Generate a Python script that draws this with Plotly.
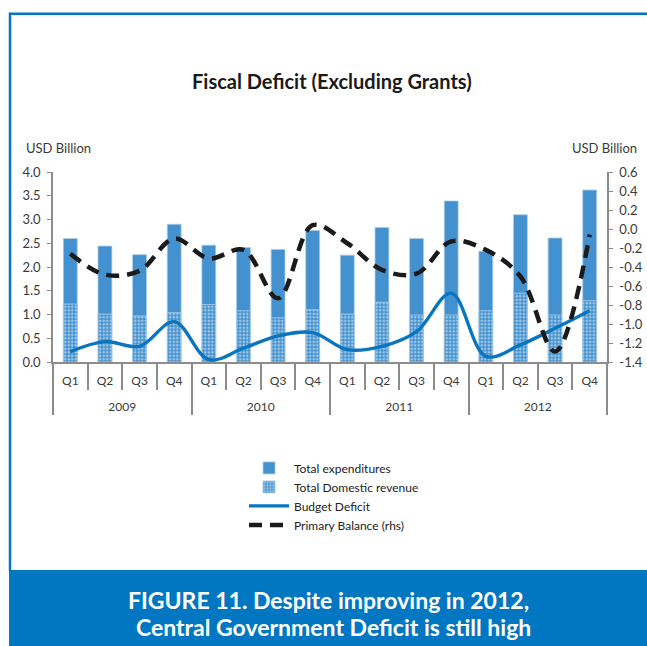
import plotly.graph_objects as go

years = ["2009"] * 4 + ["2010"] * 4 + ["2011"] * 4 + ["2012"] * 4
quarters = ["Q1", "Q2", "Q3", "Q4"] * 4

total_expenditures = [2.60, 2.44, 2.26, 2.90, 2.46, 2.41, 2.37, 2.77,
                      2.25, 2.83, 2.60, 3.39, 2.33, 3.10, 2.61, 3.62]
domestic_revenue = [1.22, 1.01, 0.97, 1.04, 1.21, 1.08, 0.93, 1.10,
                    1.01, 1.26, 0.99, 0.99, 1.08, 1.45, 0.99, 1.29]
budget_deficit = [0.22, 0.43, 0.33, 0.85, 0.05, 0.29, 0.55, 0.62,
                  0.26, 0.33, 0.64, 1.45, 0.12, 0.36, 0.71, 1.08]
primary_balance = [-0.26, -0.48, -0.44, -0.10, -0.31, -0.22, -0.73, 0.04,
                   -0.15, -0.43, -0.47, -0.13, -0.22, -0.50, -1.29, -0.06]

left_ticks = [0.0, 0.5, 1.0, 1.5, 2.0, 2.5, 3.0, 3.5, 4.0]
right_ticks = [0.6, 0.4, 0.2, 0.0, -0.2, -0.4, -0.6, -0.8, -1.0, -1.2, -1.4]

W, H = 647, 646
L, R, T, B = 53, 607, 171.7, 362.3
# outer (year) level gets a leading line break so it sits below the quarter ticks
x = [["<br>" + y for y in years], quarters]

FONT = "Lato"
GREY = "#3a3a3a"
BAR = "#4391CE"
LINE = "#0A74BE"
FRAME = "#0077C0"

fig = go.Figure()
fig.add_trace(go.Bar(x=x, y=total_expenditures, name="Total expenditures",
                     marker=dict(color=BAR, line=dict(color="#A8CBE8", width=0.8)),
                     width=0.4))
fig.add_trace(go.Bar(x=x, y=domestic_revenue, name="Total Domestic revenue",
                     marker=dict(color=BAR, line=dict(color="#A8CBE8", width=0.8),
                                 pattern=dict(shape=".", fgcolor="white", size=3.5, solidity=0.45)),
                     width=0.4))
fig.add_trace(go.Scatter(x=x, y=budget_deficit, name="Budget Deficit", mode="lines",
                         line=dict(color=LINE, width=3.4, shape="spline", smoothing=1.0)))
fig.add_trace(go.Scatter(x=x, y=primary_balance, name="Primary Balance (rhs)", mode="lines",
                         yaxis="y2",
                         line=dict(color="#1a1a1a", width=4.5, dash="13px,8px", shape="spline", smoothing=1.0)))


def px(sx):
    return (sx - L) / (R - L)


def py(sy):
    return (B - sy) / (B - T)


shapes = [
    dict(type="line", xref="paper", yref="paper", x0=px(10), x1=px(10),
         y0=py(12), y1=py(572), line=dict(color=FRAME, width=2.5)),
    dict(type="line", xref="paper", yref="paper", x0=px(9), x1=px(670),
         y0=py(13), y1=py(13), line=dict(color=FRAME, width=2.5)),
    dict(type="rect", xref="paper", yref="paper", x0=px(9), x1=px(670),
         y0=py(571), y1=py(670), fillcolor=FRAME, line=dict(width=0), layer="below"),
]

annotations = [
    dict(text="<b>Fiscal Deficit (Excluding Grants)</b>", xref="paper", yref="paper",
         x=px(332), y=py(80), xanchor="center", yanchor="middle", showarrow=False,
         font=dict(family=FONT, size=20, color="#1a1a1a")),
    dict(text="USD Billion", xref="paper", yref="paper", x=px(24), y=py(148),
         xanchor="left", yanchor="middle", showarrow=False,
         font=dict(family=FONT, size=13, color=GREY)),
    dict(text="USD Billion", xref="paper", yref="paper", x=px(639), y=py(148),
         xanchor="right", yanchor="middle", showarrow=False,
         font=dict(family=FONT, size=13, color=GREY)),
    dict(text="<b>FIGURE 11. Despite improving in 2012,</b>", xref="paper", yref="paper",
         x=px(328), y=py(601), xanchor="center", yanchor="middle", showarrow=False,
         font=dict(family=FONT, size=23, color="white")),
    dict(text="<b>Central Government Deficit is still high</b>", xref="paper", yref="paper",
         x=px(333), y=py(628), xanchor="center", yanchor="middle", showarrow=False,
         font=dict(family=FONT, size=23, color="white")),
]

fig.update_layout(
    width=W, height=H,
    margin=dict(l=L, r=W - R, t=T, b=H - B, autoexpand=False),
    paper_bgcolor="white", plot_bgcolor="white",
    barmode="overlay",
    showlegend=True,
    font=dict(family=FONT, size=12, color=GREY),
    xaxis=dict(type="multicategory", showline=True, linecolor="#8c8c8c", linewidth=1.5,
               ticks="outside", ticklen=26, tickcolor="#8c8c8c", tickwidth=1.5,
               ticklabelstandoff=7,
               showdividers=True, dividercolor="#8c8c8c", dividerwidth=1.5,
               tickfont=dict(family=FONT, size=12, color=GREY), showgrid=False),
    yaxis=dict(range=[0, 4], tickvals=left_ticks, ticktext=[f"{v:.1f}" for v in left_ticks],
               showline=True, linecolor="#8c8c8c", linewidth=1.5, ticks="outside", ticklen=4,
               tickcolor="#8c8c8c", showgrid=False, zeroline=False, ticklabelstandoff=4,
               tickfont=dict(family=FONT, size=13, color=GREY)),
    yaxis2=dict(range=[-1.4, 0.6], overlaying="y", side="right",
                tickvals=right_ticks, ticktext=[f"{v:.1f}" for v in right_ticks],
                showline=True, linecolor="#8c8c8c", linewidth=1.5, ticks="outside", ticklen=4,
                tickcolor="#8c8c8c", showgrid=False, zeroline=False, ticklabelstandoff=4,
                tickfont=dict(family=FONT, size=13, color=GREY)),
    legend=dict(x=px(244), y=py(454), xanchor="left", yanchor="top",
                bgcolor="rgba(0,0,0,0)", font=dict(family=FONT, size=12, color="#222"),
                traceorder="normal", itemwidth=40, tracegroupgap=0),
    shapes=shapes,
    annotations=annotations,
)

fig.write_html(
    "out.html",
    config={"displayModeBar": False},
    post_script="document.body.style.margin='0';document.body.style.overflow='hidden';",
)
